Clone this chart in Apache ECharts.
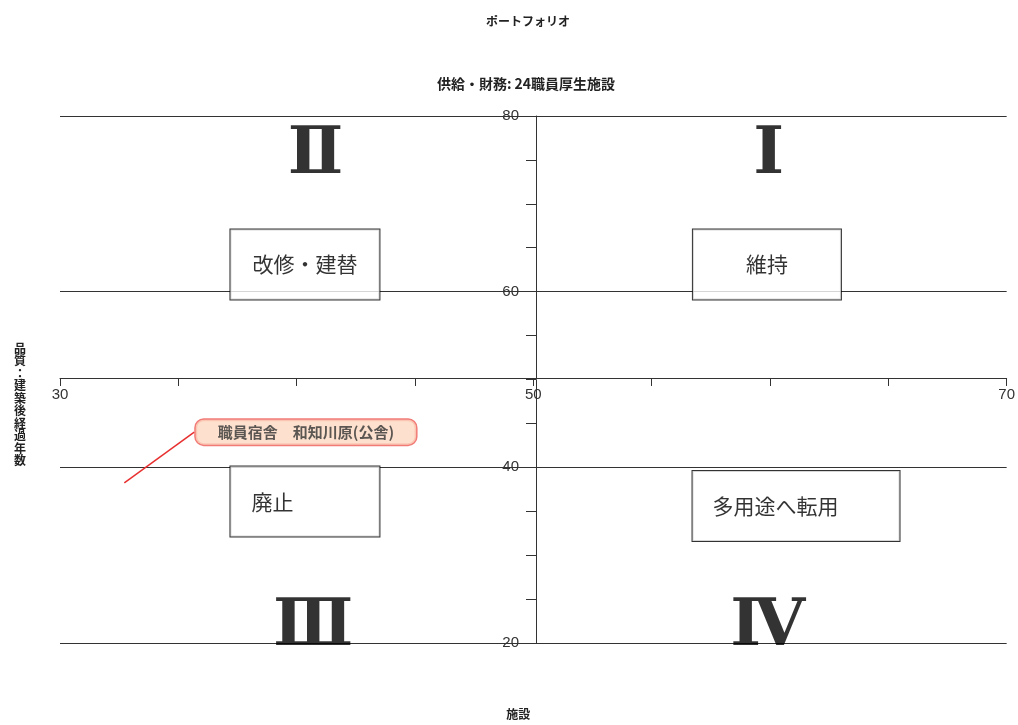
<!DOCTYPE html>
<html>
<head>
<meta charset="utf-8">
<script src="https://cdn.jsdelivr.net/npm/echarts@6/dist/echarts.min.js"></script>
<style>
html,body{margin:0;padding:0;background:#fff;overflow:hidden;}
#chart{width:1018px;height:725px;}
</style>
</head>
<body>
<div id="chart"></div>
<script>
// ---- data ----
const chartTitle = 'ポートフォリオ';
const chartSubtitle = '供給・財務: 24職員厚生施設';
const xAxisName = '施設';
const yAxisName = '品質：建築後経過年数';

const facilityNames = ['職員宿舎　和知川原(公舎)'];
const facilityX = [32.7];
const facilityY = [38.2];

const quadrantNames = ['維持', '改修・建替', '廃止', '多用途へ転用'];
const quadrantX = [59.87, 40.35, 40.35, 61.1];
const quadrantY = [63.1, 63.1, 36.1, 35.6];

const romanNumerals = ['Ⅰ', 'Ⅱ', 'Ⅲ', 'Ⅳ'];
const romanX = [59.95, 40.8, 40.7, 59.9];
const romanY = [75.5, 75.5, 21.7, 21.7];

const xTickLabels = [30, 50, 70];
const yTickLabels = [20, 40, 60, 80];

// ---- chart ----
const chart = echarts.init(document.getElementById('chart'), null, {renderer: 'canvas'});
const lineColor = '#333';
const quadrantPadding = [
  [24, 53, 24, 53],
  [24, 22, 24, 22],
  [24, 86, 24, 21],
  [24, 61, 24, 20]
];

const option = {
  backgroundColor: '#fff',
  animation: false,
  title: [
    {text: chartTitle, left: 523, top: 10, textAlign: 'center',
     textStyle: {fontSize: 12, fontWeight: 'bold', color: '#222', fontFamily: 'Noto Sans CJK JP'}},
    {text: chartSubtitle, left: 521, top: 72, textAlign: 'center',
     textStyle: {fontSize: 14, fontWeight: 'bold', color: '#222', fontFamily: 'Noto Sans CJK JP'}}
  ],
  grid: {left: 60, right: 6, top: 116, bottom: 79, containLabel: false},
  xAxis: [{
    type: 'value', min: 30, max: 70, interval: 5, position: 'bottom', offset: -265,
    name: xAxisName, nameLocation: 'middle', nameGap: 330,
    nameTextStyle: {fontSize: 12, fontWeight: 'bold', color: '#222', fontFamily: 'Noto Sans CJK JP', padding: [0, 30, 0, 0]},
    axisLine: {show: true, onZero: false, lineStyle: {color: lineColor, width: 1}},
    axisTick: {show: true, inside: false, length: 8, lineStyle: {color: lineColor}},
    axisLabel: {show: true, margin: 9, fontSize: 15, color: '#333', fontFamily: 'Liberation Sans',
      formatter: v => xTickLabels.includes(v) ? String(v) : ''},
    splitLine: {show: false}
  }],
  yAxis: [{
    type: 'value', min: 20, max: 80, interval: 5, position: 'left', offset: -476,
    name: '\n\n\n\n' + yAxisName.split('').join('\n'), nameLocation: 'middle', nameGap: 510, nameRotate: 0,
    nameTextStyle: {fontSize: 12, fontWeight: 'bold', lineHeight: 12.5, color: '#222', fontFamily: 'Noto Sans CJK JP'},
    axisLine: {show: true, onZero: false, lineStyle: {color: lineColor, width: 1}},
    axisTick: {show: true, inside: false, length: 10, lineStyle: {color: lineColor}},
    axisLabel: {show: true, margin: 17, fontSize: 15, color: '#333', fontFamily: 'Liberation Sans',
      formatter: v => yTickLabels.includes(v) ? String(v) : ''},
    splitLine: {show: false},
    z: 3
  }, {
    type: 'value', min: 20, max: 80, interval: 20, position: 'left',
    axisLine: {show: false}, axisTick: {show: false}, axisLabel: {show: false},
    splitLine: {show: true, lineStyle: {color: lineColor, width: 1}}
  }],
  series: [
    {
      name: 'quadrant', type: 'scatter', xAxisIndex: 0, yAxisIndex: 0,
      symbolSize: 1, itemStyle: {color: 'rgba(0,0,0,0)'}, silent: true, z: 5,
      data: quadrantNames.map((n, i) => ({
        value: [quadrantX[i], quadrantY[i]], name: n,
        label: {padding: quadrantPadding[i]}
      })),
      label: {
        show: true, position: 'inside', formatter: p => p.name,
        fontSize: 21, lineHeight: 22, color: '#000', fontFamily: 'Noto Sans CJK JP',
        backgroundColor: '#fff', borderColor: '#000', borderWidth: 1
      }
    },
    {
      name: 'roman', type: 'scatter', xAxisIndex: 0, yAxisIndex: 0,
      symbolSize: 1, itemStyle: {color: 'rgba(0,0,0,0)'}, silent: true, z: 5,
      data: romanNumerals.map((n, i) => ({value: [romanX[i], romanY[i]], name: n})),
      label: {
        show: true, position: 'inside', formatter: p => p.name,
        fontSize: 66, fontWeight: 'bold', color: '#000', fontFamily: 'DejaVu Serif'
      }
    },
    {
      name: 'facility', type: 'scatter', xAxisIndex: 0, yAxisIndex: 0,
      symbolSize: 1, itemStyle: {color: 'rgba(0,0,0,0)'}, z: 6,
      data: facilityNames.map((n, i) => ({value: [facilityX[i], facilityY[i]], name: n})),
      label: {
        show: true, position: 'inside', formatter: p => p.name,
        fontSize: 15, fontWeight: 'bold', color: '#333', fontFamily: 'Noto Sans CJK JP',
        backgroundColor: '#fcd9c2', borderColor: '#ee5a55', borderWidth: 1.5, borderRadius: 8,
        padding: [5, 22, 5, 22]
      },
      labelLayout: {dx: 182, dy: -51},
      labelLine: {show: true, lineStyle: {color: '#e83030', width: 1.5}}
    }
  ]
};
chart.setOption(option);
</script>
</body>
</html>
